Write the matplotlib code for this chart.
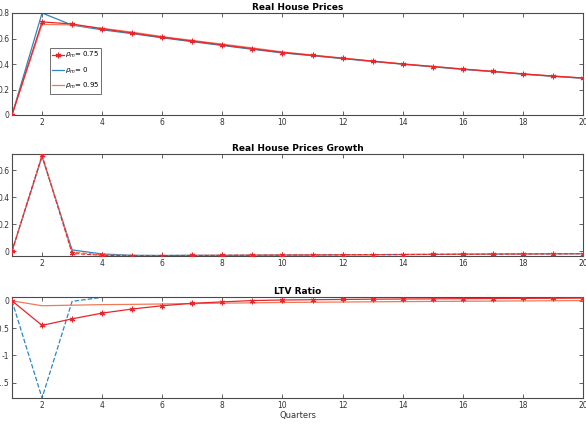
import numpy as np
import matplotlib.pyplot as plt

quarters = np.arange(1, 21)

# Real house prices
price_075 = [0, 0.73, 0.714, 0.676, 0.643, 0.61, 0.58, 0.55, 0.52, 0.49,
             0.468, 0.445, 0.422, 0.40, 0.38, 0.36, 0.342, 0.322, 0.305, 0.29]
price_0 = [0, 0.80, 0.705, 0.668, 0.638, 0.605, 0.575, 0.545, 0.515, 0.487,
           0.465, 0.442, 0.42, 0.398, 0.378, 0.358, 0.34, 0.32, 0.303, 0.288]
price_095 = [0, 0.71, 0.707, 0.68, 0.65, 0.615, 0.585, 0.556, 0.526, 0.495,
             0.47, 0.446, 0.423, 0.401, 0.381, 0.361, 0.342, 0.323, 0.306, 0.29]

# Real house prices growth
growth_075 = [0, 0.71, -0.016, -0.03, -0.033, -0.032, -0.031, -0.03, -0.029, -0.028,
              -0.027, -0.026, -0.025, -0.024, -0.023, -0.022, -0.021, -0.02, -0.019, -0.018]
growth_0 = [0, 0.70, 0.01, -0.02, -0.03, -0.031, -0.03, -0.03, -0.029, -0.028,
            -0.027, -0.026, -0.025, -0.024, -0.023, -0.022, -0.021, -0.02, -0.019, -0.018]
growth_095 = [0, 0.71, -0.005, -0.027, -0.031, -0.032, -0.031, -0.03, -0.029, -0.028,
              -0.027, -0.026, -0.025, -0.024, -0.023, -0.022, -0.021, -0.02, -0.019, -0.018]

# LTV ratio
ltv_075 = [0, -0.45, -0.33, -0.225, -0.15, -0.09, -0.045, -0.02, 0.005, 0.015,
           0.02, 0.025, 0.03, 0.033, 0.036, 0.039, 0.042, 0.045, 0.047, 0.05]
ltv_0 = [0, -1.78, -0.01, 0.065, 0.068, 0.07, 0.07, 0.07, 0.07, 0.07,
         0.07, 0.07, 0.07, 0.07, 0.07, 0.07, 0.07, 0.07, 0.07, 0.07]
ltv_095 = [0, -0.09, -0.08, -0.07, -0.065, -0.058, -0.05, -0.043, -0.037, -0.03,
           -0.026, -0.022, -0.018, -0.014, -0.011, -0.008, -0.005, -0.002, 0.001, 0.005]

labels = [r"$\rho_m$= 0.75", r"$\rho_m$= 0", r"$\rho_m$= 0.95"]

RED = "#e8262b"
BLUE = "#2f86c0"
ORANGE = "#ef7a5a"
AX = "#4a4a4a"
STAR = (6, 2, 0)

fig = plt.figure(figsize=(5.86, 4.30), dpi=100)
L, W = 12 / 586, 571 / 586
boxes = [(115, 13), (256, 154), (398, 297)]


def make_ax(bottom_px, top_px):
    ax = fig.add_axes([L, 1 - bottom_px / 430, W, (bottom_px - top_px) / 430])
    for s in ax.spines.values():
        s.set_color(AX)
        s.set_linewidth(0.8)
    ax.tick_params(direction="in", length=3, width=0.6, colors=AX,
                   labelsize=5.5, labelcolor="#333333", top=True, right=True, pad=2)
    ax.set_xlim(1, 20)
    ax.set_xticks(range(2, 21, 2))
    return ax


ax1 = make_ax(*boxes[0])
ax1.plot(quarters, price_075, color=RED, lw=0.9, marker=STAR, ms=4, mew=0.8, label=labels[0], zorder=3)
ax1.plot(quarters, price_0, color=BLUE, lw=0.9, label=labels[1])
ax1.plot(quarters, price_095, color=ORANGE, lw=0.9, label=labels[2])
ax1.set_ylim(0, 0.8)
ax1.set_yticks([0, 0.2, 0.4, 0.6, 0.8])
ax1.set_yticklabels(["0", "0.2", "0.4", "0.6", "0.8"])
ax1.set_title("Real House Prices", fontsize=6.5, fontweight="bold", pad=2)
leg = ax1.legend(loc="upper left", bbox_to_anchor=(0.066, 0.66), fontsize=5,
                 frameon=True, fancybox=False, edgecolor=AX, handlelength=1.7,
                 borderpad=0.35, labelspacing=0.75, handletextpad=0.1, borderaxespad=0)
leg.get_frame().set_linewidth(0.7)

ax2 = make_ax(*boxes[1])
ax2.plot(quarters, growth_0, color=BLUE, lw=0.9)
ax2.plot(quarters, growth_095, color=ORANGE, lw=0.9, ls="--")
ax2.plot(quarters, growth_075, color=RED, lw=0.8, ls="--", marker=STAR, ms=4, mew=0.8, zorder=3)
ax2.set_ylim(-0.035, 0.72)
ax2.set_yticks([0, 0.2, 0.4, 0.6])
ax2.set_yticklabels(["0", "0.2", "0.4", "0.6"])
ax2.set_title("Real House Prices Growth", fontsize=6.5, fontweight="bold", pad=2)

ax3 = make_ax(*boxes[2])
ax3.plot(quarters, ltv_0, color=BLUE, lw=0.9, ls="--")
ax3.plot(quarters, ltv_095, color=ORANGE, lw=0.9)
ax3.plot(quarters, ltv_075, color=RED, lw=0.9, marker=STAR, ms=4, mew=0.8, zorder=3)
ax3.set_ylim(-1.78, 0.07)
ax3.set_yticks([-1.5, -1, -0.5, 0])
ax3.set_yticklabels(["-1.5", "-1", "-0.5", "0"])
ax3.set_title("LTV Ratio", fontsize=6.5, fontweight="bold", pad=2)
ax3.set_xlabel("Quarters", fontsize=6, color="#333333", labelpad=1)

fig.savefig("out.png", dpi=100)
